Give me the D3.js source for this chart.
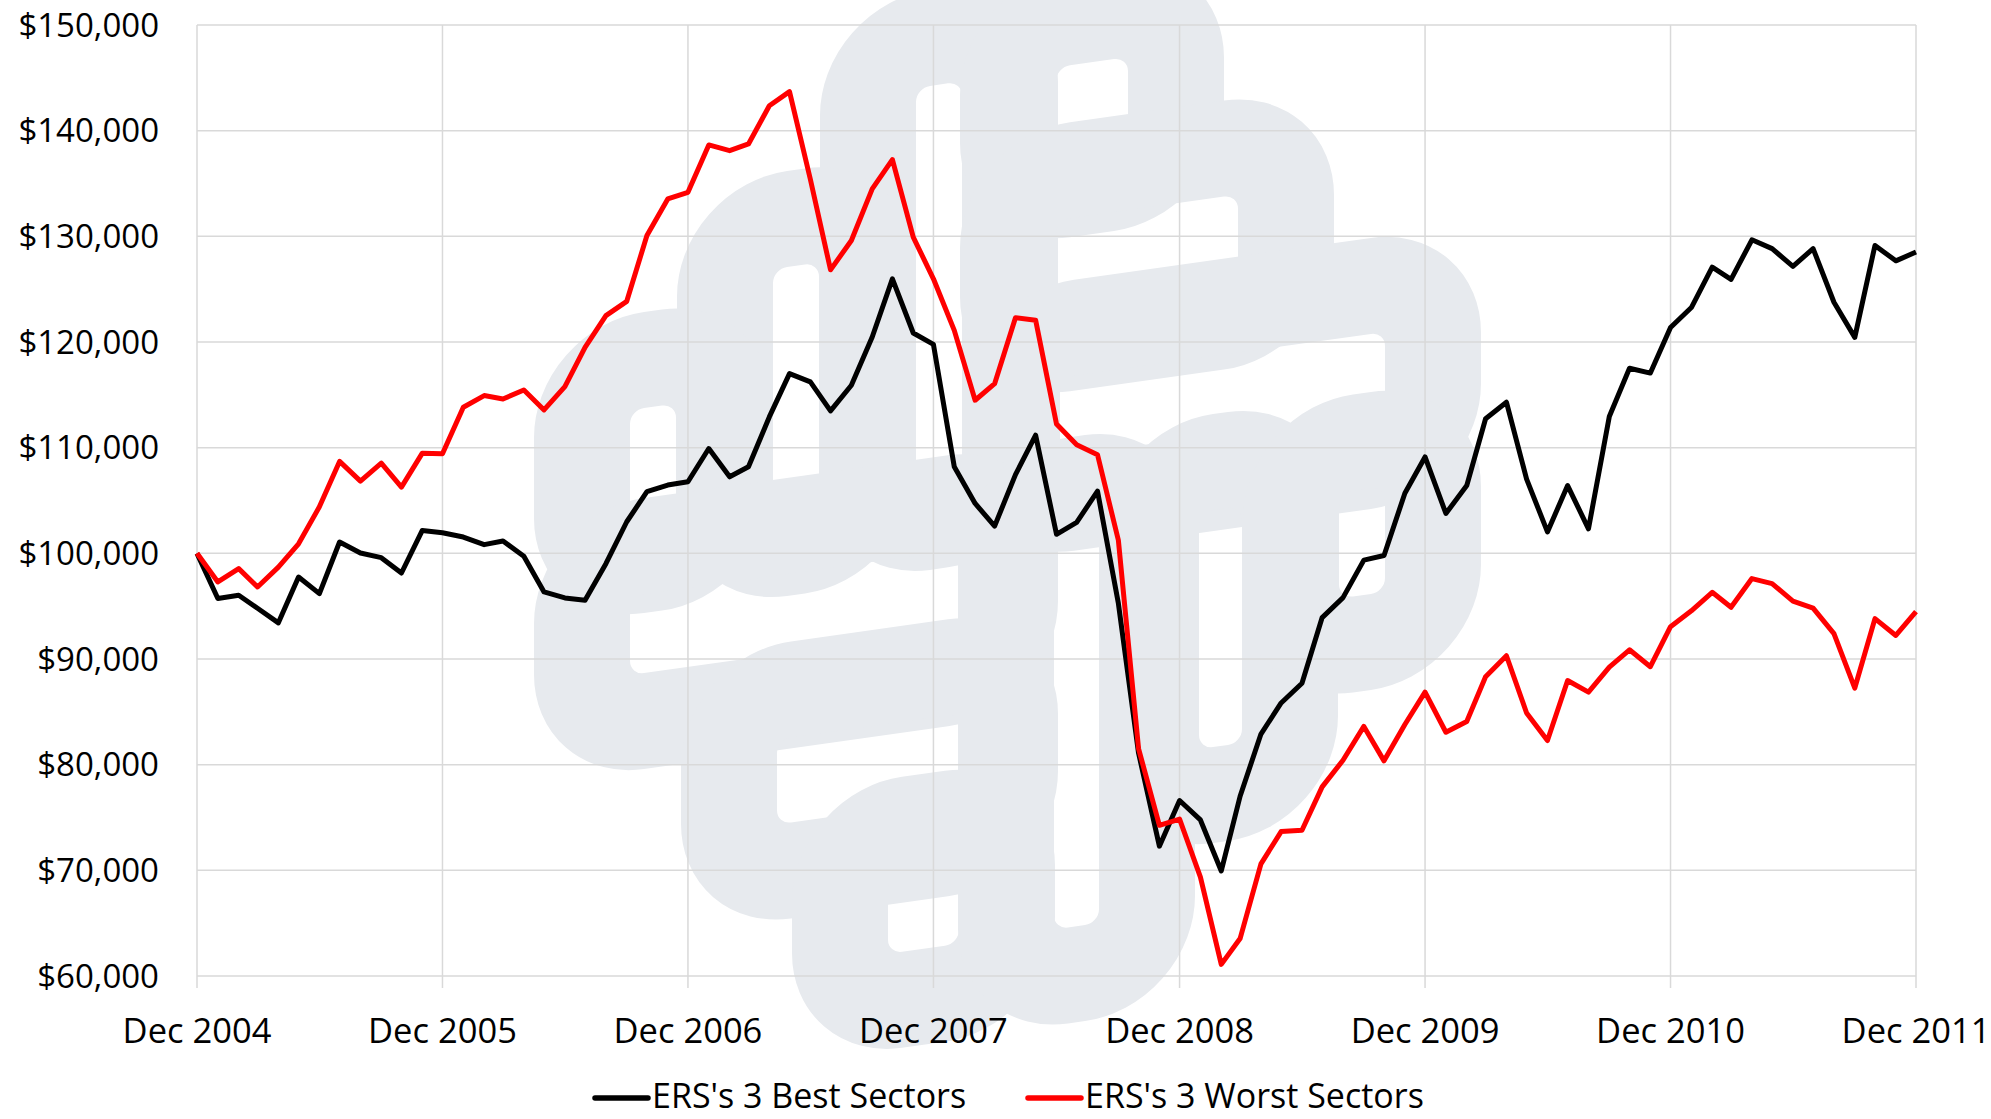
<!DOCTYPE html>
<html>
<head>
<meta charset="utf-8">
<script src="https://cdn.jsdelivr.net/npm/d3@7"></script>
<style>
  body { margin: 0; background: #fff; }
  text { font-family: "Open Sans", "Noto Sans", sans-serif; fill: #000; }
</style>
</head>
<body>
<script>
// monthly values, Dec 2004 .. Dec 2011
let startMonth = new Date(2004, 11, 1);
let yearLabels = ["Dec 2004", "Dec 2005", "Dec 2006", "Dec 2007", "Dec 2008", "Dec 2009", "Dec 2010", "Dec 2011"];
let yTicks = [60000, 70000, 80000, 90000, 100000, 110000, 120000, 130000, 140000, 150000];
let seriesNames = ["ERS's 3 Best Sectors", "ERS's 3 Worst Sectors"];
let seriesColors = ["#000000", "#ff0000"];

let bestSectors = [
  100000, 95720, 96030, 94800, 93420, 97760, 96190, 101070, 100030, 99590, 98140, 102170,
  101950, 101540, 100820, 101170, 99720, 96350, 95780, 95560, 99020, 102990, 105830, 106460,
  106770, 109920, 107240, 108190, 112910, 117010, 116220, 113480, 115910, 120470, 125980, 120850,
  119780, 108190, 104720, 102580, 107450, 111180, 101800, 102930, 105880, 95270, 81100, 72290,
  76610, 74770, 69940, 77010, 82900, 85840, 87700, 93920, 95810, 99360, 99790, 105690,
  109120, 103770, 106410, 112740, 114300, 107030, 102030, 106410, 102320, 112950, 117520, 117060,
  121370, 123260, 127080, 125920, 129670, 128840, 127150, 128840, 123760, 120440, 129140, 127680,
  128510
];

let worstSectors = [
  100000, 97290, 98550, 96820, 98700, 100900, 104400, 108700, 106830, 108540, 106270, 109480,
  109420, 113830, 114930, 114610, 115460, 113570, 115780, 119500, 122500, 123850, 130080, 133540,
  134170, 138650, 138110, 138740, 142360, 143690, 135400, 126830, 129610, 134490, 137260, 129920,
  125980, 121100, 114490, 116060, 122300, 122050, 112250, 110270, 109330, 101240, 81520, 74260,
  74850, 69350, 61100, 63540, 70610, 73670, 73790, 77900, 80420, 83620, 80360, 83800,
  86870, 83070, 84090, 88320, 90310, 84890, 82280, 87960, 86870, 89230, 90870, 89270,
  93060, 94560, 96310, 94890, 97610, 97140, 95480, 94820, 92400, 87250, 93820, 92230,
  94490
];

// background logo: slot rectangles [x0, x1, y0, y1]
let logoSlots = [
  [916, 962, 62, 450], [1056, 1128, 61, 137], [1056, 1238, 214, 291], [1060, 1385, 372, 451],
  [773, 819, 223, 456], [630, 676, 344, 453], [630, 962, 530, 609], [777, 962, 694, 779],
  [888, 959, 845, 924], [1054, 1099, 529, 923], [1199, 1242, 526, 763], [1339, 1385, 526, 632]
];

let svgWidth = 1991;
let svgHeight = 1119;
let margin = { top: 25, right: 75, bottom: 143, left: 197 };
let chartWidth = svgWidth - margin.left - margin.right;
let chartHeight = svgHeight - margin.top - margin.bottom;

let months = d3.timeMonth.range(startMonth, d3.timeMonth.offset(startMonth, bestSectors.length));
let yearTicks = yearLabels.map((d, i) => d3.timeYear.offset(startMonth, i));

let svg = d3.select("body").append("svg")
  .attr("width", svgWidth)
  .attr("height", svgHeight);

// watermark logo
let tube = 48;
svg.append("g")
  .attr("transform", "translate(1100,0) skewY(-8) translate(-1100,0)")
  .selectAll("rect")
  .data(logoSlots)
  .enter()
  .append("rect")
  .attr("x", d => d[0] - tube)
  .attr("y", d => d[2] - tube)
  .attr("width", d => d[1] - d[0] + 2 * tube)
  .attr("height", d => d[3] - d[2] + 2 * tube)
  .attr("rx", 62)
  .attr("fill", "none")
  .attr("stroke", "#e7eaee")
  .attr("stroke-width", tube * 2);

let chartGroup = svg.append("g")
  .attr("transform", `translate(${margin.left}, ${margin.top})`);

let xScale = d3.scaleTime()
  .domain([months[0], months[months.length - 1]])
  .range([0, chartWidth]);

let yScale = d3.scaleLinear()
  .domain([60000, 150000])
  .range([chartHeight, 0]);

// gridlines
chartGroup.append("g")
  .selectAll("line")
  .data(yTicks)
  .enter()
  .append("line")
  .attr("x1", 0)
  .attr("x2", chartWidth)
  .attr("y1", d => yScale(d))
  .attr("y2", d => yScale(d))
  .attr("stroke", "#d9d9d9")
  .attr("stroke-width", 1.5);

chartGroup.append("g")
  .selectAll("line")
  .data(yearTicks)
  .enter()
  .append("line")
  .attr("x1", d => xScale(d))
  .attr("x2", d => xScale(d))
  .attr("y1", 0)
  .attr("y2", chartHeight + 12)
  .attr("stroke", "#d9d9d9")
  .attr("stroke-width", 1.5);

// axis labels
let fmt = d3.format("$,");
chartGroup.append("g")
  .selectAll("text")
  .data(yTicks)
  .enter()
  .append("text")
  .attr("x", -38)
  .attr("y", d => yScale(d))
  .attr("dy", "0.35em")
  .attr("text-anchor", "end")
  .style("font-size", "33px")
  .text(d => fmt(d));

chartGroup.append("g")
  .selectAll("text")
  .data(yearTicks)
  .enter()
  .append("text")
  .attr("x", d => xScale(d))
  .attr("y", chartHeight + 55)
  .attr("dy", "0.35em")
  .attr("text-anchor", "middle")
  .style("font-size", "34.5px")
  .text((d, i) => yearLabels[i]);

// lines
let line = d3.line()
  .x((d, i) => xScale(months[i]))
  .y(d => yScale(d));

[bestSectors, worstSectors].forEach(function(series, k) {
  chartGroup.append("path")
    .datum(series)
    .attr("fill", "none")
    .attr("stroke", seriesColors[k])
    .attr("stroke-width", 5)
    .attr("stroke-linejoin", "round")
    .attr("d", line);
});

// legend
let legendX = [595, 1028];
let legend = svg.append("g");
seriesNames.forEach(function(name, k) {
  legend.append("line")
    .attr("x1", legendX[k])
    .attr("x2", legendX[k] + 53)
    .attr("y1", 1098)
    .attr("y2", 1098)
    .attr("stroke", seriesColors[k])
    .attr("stroke-width", 5.5)
    .attr("stroke-linecap", "round");
  legend.append("text")
    .attr("x", legendX[k] + 57)
    .attr("y", 1096)
    .attr("dy", "0.35em")
    .style("font-size", "34px")
    .text(name);
});
</script>
</body>
</html>
